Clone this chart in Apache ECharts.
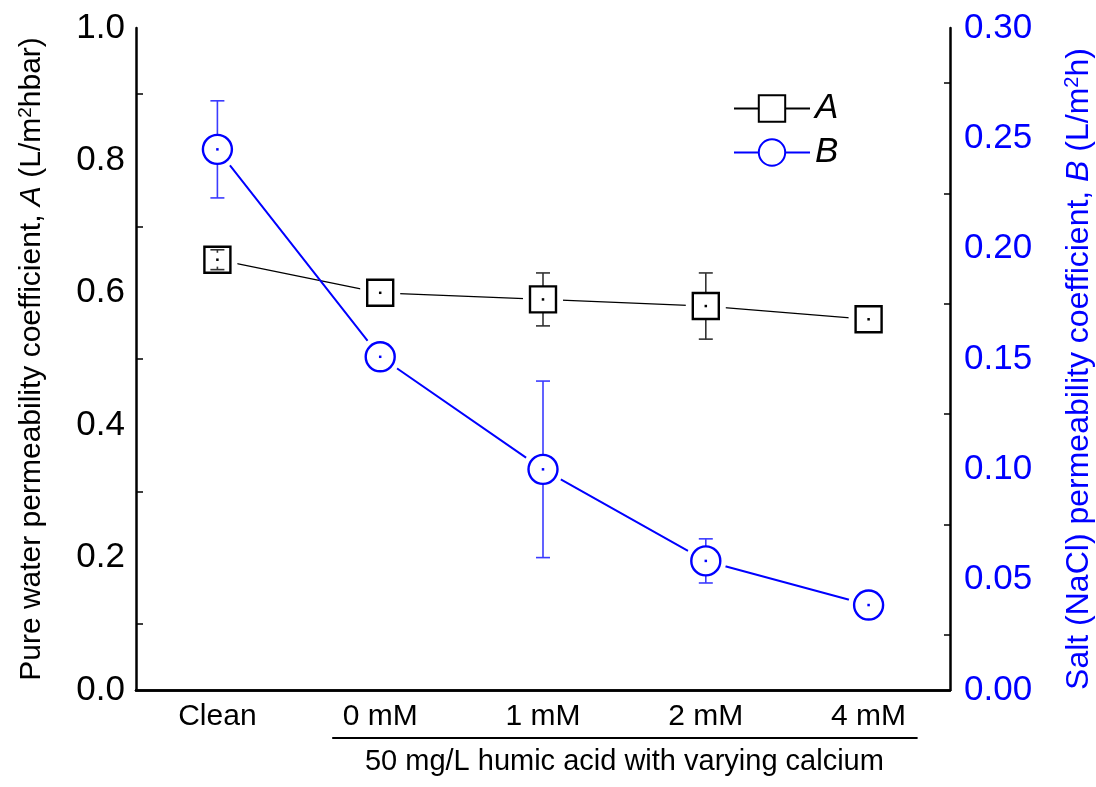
<!DOCTYPE html>
<html>
<head>
<meta charset="utf-8">
<script src="https://cdn.jsdelivr.net/npm/echarts@6/dist/echarts.min.js"></script>
<style>
  html, body { margin: 0; padding: 0; background: #fff; }
  #chart { width: 1096px; height: 787px; }
</style>
</head>
<body>
<div id="chart"></div>
<script>
let categories = ['Clean', '0 mM', '1 mM', '2 mM', '4 mM'];
let aValues = [0.65, 0.60, 0.59, 0.58, 0.56];
let aErrors = [0.015, 0, 0.04, 0.05, 0];
let bValues = [0.245, 0.151, 0.100, 0.0585, 0.0385];
let bErrors = [0.022, 0, 0.04, 0.010, 0];
let leftTicks = [0, 0.2, 0.4, 0.6, 0.8, 1.0];
let rightTicks = [0, 0.05, 0.10, 0.15, 0.20, 0.25, 0.30];

let blue = '#0000ff';
let font = 'Liberation Sans, Arial, sans-serif';

let chart = echarts.init(document.getElementById('chart'));

function toData(vals, errs) {
    let out = [];
    for (let i = 0; i < vals.length; i++) out.push([i, vals[i], errs[i]]);
    return out;
}

// markers drawn on top of the line, with a white halo so the line stops short
function makeRender(shape, color, size, errColor) {
    return function (params, api) {
        let x = api.value(0), v = api.value(1), e = api.value(2);
        let p = api.coord([x, v]);
        let h = size / 2;
        let kids = [];
        let marker = function (style) {
            if (shape === 'rect')
                return { type: 'rect', shape: { x: p[0] - h, y: p[1] - h, width: size, height: size }, style: style };
            return { type: 'circle', shape: { cx: p[0], cy: p[1], r: h }, style: style };
        };
        if (shape === 'rect')
            kids.push({ type: 'rect', shape: { x: p[0] - h - 7, y: p[1] - h - 7, width: size + 14, height: size + 14 }, style: { fill: '#fff' } });
        else
            kids.push({ type: 'circle', shape: { cx: p[0], cy: p[1], r: h + 6 }, style: { fill: '#fff' } });
        kids.push(marker({ fill: '#fff' }));
        if (e > 0) {
            let top = api.coord([x, v + e])[1];
            let bot = api.coord([x, v - e])[1];
            let es = { stroke: errColor, lineWidth: 1.6 };
            kids.push({ type: 'line', shape: { x1: p[0] - 7, y1: top, x2: p[0] + 7, y2: top }, style: es });
            kids.push({ type: 'line', shape: { x1: p[0] - 7, y1: bot, x2: p[0] + 7, y2: bot }, style: es });
            let edgeT = p[1] - h, edgeB = p[1] + h;
            kids.push({ type: 'line', shape: { x1: p[0], y1: top, x2: p[0], y2: top < edgeT ? edgeT : top + 3 }, style: es });
            kids.push({ type: 'line', shape: { x1: p[0], y1: bot, x2: p[0], y2: bot > edgeB ? edgeB : bot - 3 }, style: es });
        }
        kids.push(marker({ fill: 'none', stroke: color, lineWidth: 2.4 }));
        kids.push({ type: 'rect', shape: { x: p[0] - 1.25, y: p[1] - 1.25, width: 2.5, height: 2.5 }, style: { fill: color } });
        return { type: 'group', children: kids };
    };
}

let option = {
    animation: false,
    grid: { left: 136, right: 146, top: 28, bottom: 97, containLabel: false, outerBoundsMode: 'none' },
    legend: {
        data: ['A', 'B'],
        orient: 'vertical',
        left: 728,
        top: 86,
        itemWidth: 76,
        itemHeight: 33,
        itemGap: 9,
        textStyle: { fontSize: 35, fontStyle: 'italic', fontFamily: font, color: '#000' }
    },
    xAxis: [{
        type: 'category',
        data: categories,
        boundaryGap: true,
        axisLine: { lineStyle: { color: '#000', width: 2.5 } },
        axisTick: { inside: true, alignWithLabel: true, length: 13, lineStyle: { color: '#000', width: 2 } },
        axisLabel: { fontSize: 30, fontFamily: font, color: '#000', margin: 12 },
        splitLine: { show: false }
    }, {
        type: 'category',
        data: categories,
        position: 'top',
        boundaryGap: true,
        axisLine: { lineStyle: { color: '#000', width: 2.5 } },
        axisTick: { inside: true, alignWithLabel: true, length: 5, lineStyle: { color: '#000', width: 1.5 } },
        axisLabel: { show: false },
        splitLine: { show: false }
    }],
    yAxis: [{
        type: 'value',
        min: leftTicks[0],
        max: leftTicks[leftTicks.length - 1],
        interval: 0.2,
        position: 'left',
        name: '{n|Pure water permeability coefficient, }{i|A}{n| (L/m}{s|2}{n|hbar)}',
        nameLocation: 'middle',
        nameRotate: 90,
        nameGap: 88,
        nameTextStyle: {
            rich: {
                n: { fontSize: 30, fontFamily: font, color: '#000' },
                i: { fontSize: 30, fontFamily: font, fontStyle: 'italic', color: '#000' },
                s: { fontSize: 19, fontFamily: font, color: '#000', verticalAlign: 'top', padding: [0, 0, 13, 0] }
            }
        },
        axisLine: { show: true, lineStyle: { color: '#000', width: 2.5 } },
        axisTick: { inside: true, length: 13, lineStyle: { color: '#000', width: 2 } },
        minorTick: { show: true, splitNumber: 2, length: 7, lineStyle: { color: '#000', width: 1.5 } },
        axisLabel: { fontSize: 35, fontFamily: font, color: '#000', margin: 11, formatter: v => v.toFixed(1) },
        splitLine: { show: false }
    }, {
        type: 'value',
        min: rightTicks[0],
        max: rightTicks[rightTicks.length - 1],
        interval: 0.05,
        position: 'right',
        name: '{n|Salt (NaCl) permeability coefficient, }{i|B}{n| (L/m}{s|2}{n|h)}',
        nameLocation: 'middle',
        nameRotate: 90,
        nameGap: 112,
        nameTextStyle: {
            padding: [0, 20, 0, 0],
            rich: {
                n: { fontSize: 32, fontFamily: font, color: blue },
                i: { fontSize: 32, fontFamily: font, fontStyle: 'italic', color: blue },
                s: { fontSize: 20, fontFamily: font, color: blue, verticalAlign: 'top', padding: [0, 0, 14, 0] }
            }
        },
        axisLine: { show: true, lineStyle: { color: '#000', width: 2.5 } },
        axisTick: { inside: true, length: 13, lineStyle: { color: '#000', width: 2 } },
        minorTick: { show: true, splitNumber: 2, length: 6, lineStyle: { color: '#000', width: 1.5 } },
        axisLabel: { fontSize: 35, fontFamily: font, color: blue, margin: 14, formatter: v => v.toFixed(2) },
        splitLine: { show: false }
    }],
    series: [{
        name: 'A',
        type: 'line',
        data: aValues,
        yAxisIndex: 0,
        symbol: 'rect',
        symbolSize: 26,
        z: 2,
        lineStyle: { color: '#000', width: 1.2 },
        itemStyle: { color: '#fff', borderColor: '#000', borderWidth: 2.2 }
    }, {
        name: 'B',
        type: 'line',
        data: bValues,
        yAxisIndex: 1,
        symbol: 'circle',
        symbolSize: 28,
        z: 2,
        lineStyle: { color: blue, width: 2 },
        itemStyle: { color: '#fff', borderColor: blue, borderWidth: 2.2 }
    }, {
        name: 'A marks',
        type: 'custom',
        yAxisIndex: 0,
        z: 3,
        data: toData(aValues, aErrors),
        renderItem: makeRender('rect', '#000', 26, '#333')
    }, {
        name: 'B marks',
        type: 'custom',
        yAxisIndex: 1,
        z: 3,
        data: toData(bValues, bErrors),
        renderItem: makeRender('circle', blue, 29, '#3b3bff')
    }]
};
chart.setOption(option);

// group label under the humic acid categories
let p1 = chart.convertToPixel({ xAxisIndex: 0 }, categories[1]);
let p4 = chart.convertToPixel({ xAxisIndex: 0 }, categories[4]);
let baseY = chart.convertToPixel({ yAxisIndex: 0 }, 0);
chart.setOption({
    graphic: [{
        type: 'line',
        shape: { x1: p1 - 48, y1: baseY + 48, x2: p4 + 49, y2: baseY + 48 },
        style: { stroke: '#000', lineWidth: 2.2 }
    }, {
        type: 'text',
        x: (p1 + p4) / 2,
        y: baseY + 72,
        style: {
            text: '50 mg/L humic acid with varying calcium',
            fontSize: 29, fontFamily: font, fill: '#000',
            textAlign: 'center', textVerticalAlign: 'middle'
        }
    }]
});
</script>
</body>
</html>
